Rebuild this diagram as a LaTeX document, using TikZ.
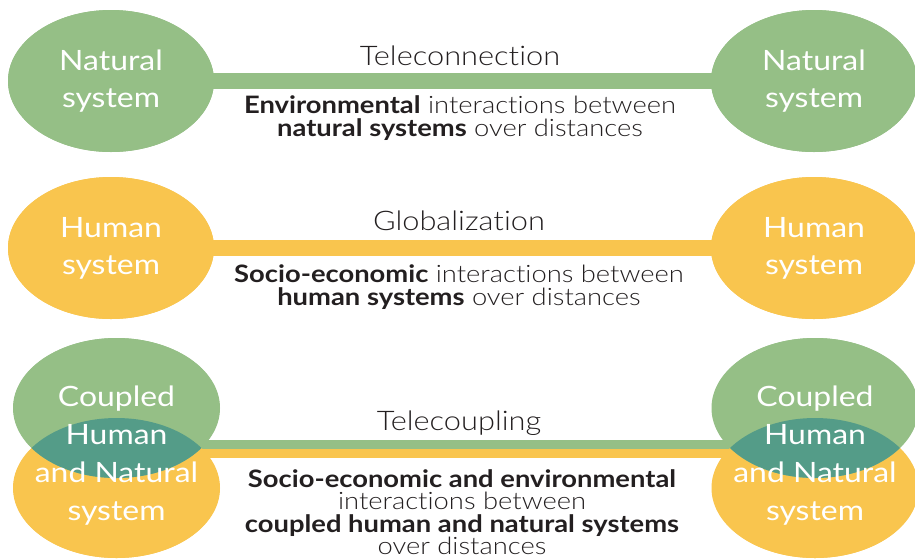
\documentclass[tikz,border=0pt]{standalone}
\usepackage{fontspec}
\setmainfont{Lato Light}[FakeStretch=1.14, Ligatures=CommonOff, BoldFont={Lato Bold}, BoldFeatures={FakeStretch=1.14}]
\newfontfamily\ellfont{Lato}[FakeStretch=1.14, Ligatures=CommonOff]
\usetikzlibrary{shapes.geometric,calc}
\definecolor{natgreen}{HTML}{95BF86}
\definecolor{humyellow}{HTML}{F9C54E}
\definecolor{overlapteal}{HTML}{549C88}
\definecolor{inkdark}{HTML}{231F20}
\tikzset{
  sysell/.style={ellipse, inner sep=0pt, minimum width=206pt, minimum height=142pt, draw=none},
  systext/.style={text=white, align=center, inner sep=0pt, font=\ellfont\fontsize{28}{37}\selectfont},
  bar/.style={line width=16pt},
  halfbar/.style={line width=9pt},
  titletext/.style={text=inkdark, anchor=base, inner sep=0pt, font=\fontsize{27}{32}\selectfont},
  bodytext/.style={text=inkdark, anchor=north, align=center, inner sep=0pt, font=\fontsize{24}{23}\selectfont},
}
\begin{document}
\begin{tikzpicture}[x=1pt,y=-1pt]
\useasboundingbox (0,0) rectangle (915,558);
\fill[white] (0,0) rectangle (915,558);

% row 1: Teleconnection
\node[sysell, fill=natgreen] (n1) at (111,81) {};
\node[sysell, fill=natgreen] (n2) at (814,81) {};
\node[titletext] (t1) at (460,65) {Teleconnection};
\node[bodytext] (b1) at (460,95) {\textbf{Environmental} interactions between\\\textbf{natural systems} over distances};

% row 2: Globalization
\node[sysell, fill=humyellow] (h1) at (111,248) {};
\node[sysell, fill=humyellow] (h2) at (814,248) {};
\node[titletext] (t2) at (459,230) {Globalization};
\node[bodytext] (b2) at (459,264) {\textbf{Socio-economic} interactions between\\\textbf{human systems} over distances};

% row 3: Telecoupling
\node[sysell, fill=humyellow, minimum height=140pt] (cy1) at (116.5,488) {};
\node[sysell, fill=natgreen, minimum height=140pt] (cg1) at (116.5,408) {};
\node[sysell, fill=humyellow, minimum height=140pt] (cy2) at (815,488) {};
\node[sysell, fill=natgreen, minimum height=140pt] (cg2) at (815,408) {};
\path (cg1.center) ++(0,36.5) coordinate (gL);
\path (cg2.center) ++(0,36.5) coordinate (gR);
\path (cy1.center) ++(0,-34.5) coordinate (yL);
\path (cy2.center) ++(0,-34.5) coordinate (yR);
\node[titletext] (t3) at (459,430) {Telecoupling};
\node[bodytext, font=\fontsize{24}{22.5}\selectfont] (b3) at (462,469) {\textbf{Socio-economic and environmental}\\interactions between\\\textbf{coupled human and natural systems}\\over distances};

% connectors (bars) between the systems
\draw[bar, natgreen] (n1.center) -- (n2.center);
\draw[bar, humyellow] (h1.center) -- (h2.center);
\draw[halfbar, natgreen] (gL) -- (gR);
\draw[halfbar, humyellow] (yL) -- (yR);

% ellipses on top of the bars
\fill[natgreen] (n1) ellipse [x radius=103, y radius=71];
\fill[natgreen] (n2) ellipse [x radius=103, y radius=71];
\fill[humyellow] (h1) ellipse [x radius=103, y radius=71];
\fill[humyellow] (h2) ellipse [x radius=103, y radius=71];
\fill[humyellow] (cy1) ellipse [x radius=103.5, y radius=70];
\fill[natgreen] (cg1) ellipse [x radius=103.5, y radius=70];
\fill[humyellow] (cy2) ellipse [x radius=103.5, y radius=70];
\fill[natgreen] (cg2) ellipse [x radius=103.5, y radius=70];
\begin{scope}
\clip (cg1) ellipse [x radius=103.5, y radius=70];
\fill[overlapteal] (cy1) ellipse [x radius=103.5, y radius=70];
\end{scope}
\begin{scope}
\clip (cg2) ellipse [x radius=103.5, y radius=70];
\fill[overlapteal] (cy2) ellipse [x radius=103.5, y radius=70];
\end{scope}

% texts in ellipses
\node[systext] at (n1) {Natural\\system};
\node[systext] at (n2) {Natural\\system};
\node[systext] at (h1) {Human\\system};
\node[systext] at (h2) {Human\\system};
\node[systext, font=\ellfont\fontsize{28}{38}\selectfont] at ($(cg1)!0.59!(cy1)$) {Coupled\\Human\\and Natural\\system};
\node[systext, font=\ellfont\fontsize{28}{38}\selectfont] at ($(cg2)!0.59!(cy2)$) {Coupled\\Human\\and Natural\\system};
\end{tikzpicture}
\end{document}
